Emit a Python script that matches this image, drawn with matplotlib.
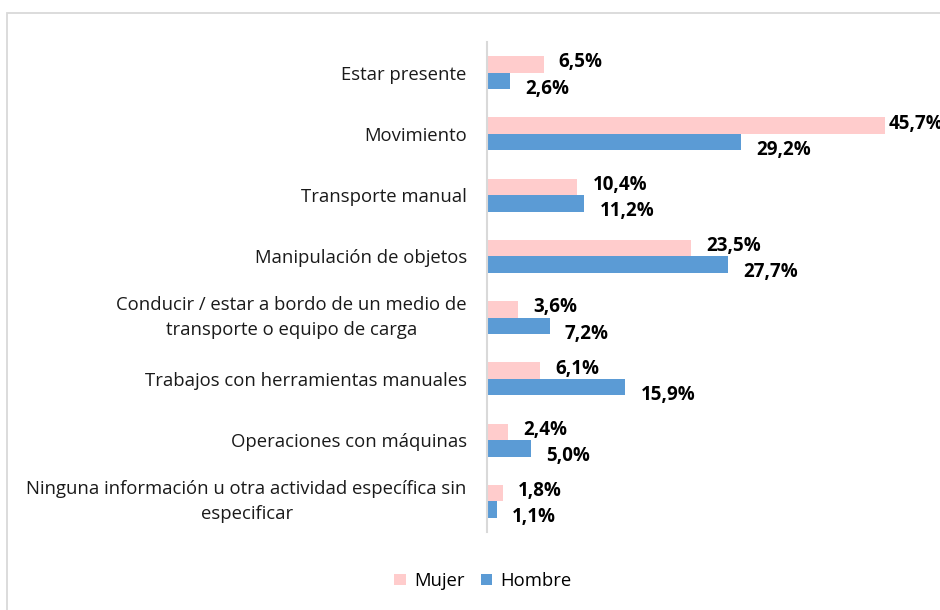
import numpy as np
import matplotlib.pyplot as plt
from matplotlib.patches import Rectangle

categorias = [
    "Estar presente",
    "Movimiento",
    "Transporte manual",
    "Manipulación de objetos",
    "Conducir / estar a bordo de un medio de\ntransporte o equipo de carga",
    "Trabajos con herramientas manuales",
    "Operaciones con máquinas",
    "Ninguna información u otra actividad específica sin\nespecificar",
]
mujer = [6.5, 45.7, 10.4, 23.5, 3.6, 6.1, 2.4, 1.8]
hombre = [2.6, 29.2, 11.2, 27.7, 7.2, 15.9, 5.0, 1.1]

color_mujer = "#FFCCCC"
color_hombre = "#5B9BD5"

plt.rcParams['font.family'] = ['Open Sans', 'DejaVu Sans']

W, H = 940, 610
fig = plt.figure(figsize=(W / 100, H / 100), dpi=100)

# marco gris del grafico (se sale por la derecha y por abajo)
fig.patches.append(Rectangle((7 / W, -0.05), 1.1, 1.05 - 12.5 / H,
                             transform=fig.transFigure, fill=False,
                             edgecolor="#D9D9D9", linewidth=1.3))

ax = fig.add_axes([487 / W, 1 - 532 / H, (922 - 487) / W, (532 - 42) / H])

y = np.arange(len(categorias))
h = 0.27
ax.barh(y - h / 2, mujer, height=h, color=color_mujer, label="Mujer")
ax.barh(y + h / 2, hombre, height=h, color=color_hombre, label="Hombre")

ax.set_xlim(0, 50)
ax.set_ylim(len(categorias) - 0.5, -0.5)


def etiqueta(valor, ypos, dy):
    # como Excel: si la etiqueta no cabe, se pega a la barra
    fin = ax.transData.transform((valor, 0))[0]
    dx = 11 if fin + 15 + 50 < W else 3
    ax.annotate(f"{valor:.1f}%".replace(".", ","), (valor, ypos),
                xytext=(dx, dy), textcoords="offset points", ha="left", va="center",
                fontsize=13.5, fontweight="bold", annotation_clip=False)


for i in range(len(categorias)):
    etiqueta(mujer[i], y[i] - h / 2, 1.5)
    etiqueta(hombre[i], y[i] + h / 2, -5.5)

ax.set_yticks(y)
ax.set_yticklabels(categorias, fontsize=13.3, multialignment="center",
                   linespacing=1.55, color="#1a1a1a")
for t in ax.get_yticklabels():
    if "\n" in t.get_text():
        t.set_va("center")
ax.tick_params(axis="y", length=0, pad=14.5)
ax.set_xticks([])

for s in ["top", "right", "bottom"]:
    ax.spines[s].set_visible(False)
ax.spines["left"].set_color("#D9D9D9")
ax.spines["left"].set_linewidth(1.5)

fig.legend(loc="center", bbox_to_anchor=(483 / W, 1 - 581 / H), ncol=2, frameon=False,
           fontsize=13.3, handlelength=0.6, handleheight=0.6, handletextpad=0.45,
           columnspacing=0.9)

fig.savefig("out.png", dpi=100)
